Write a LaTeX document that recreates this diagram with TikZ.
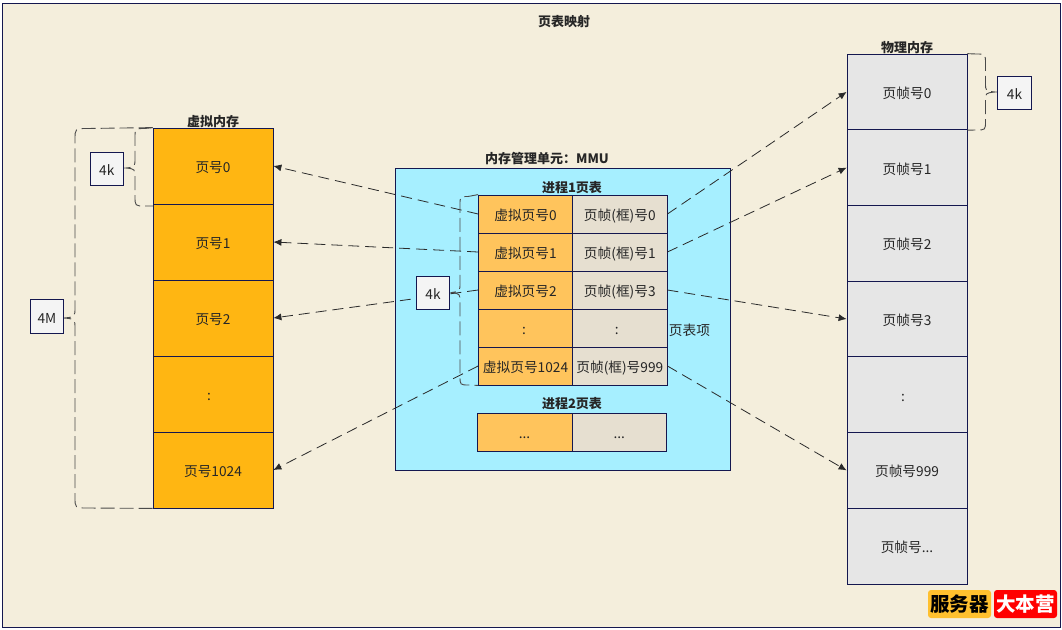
\documentclass[tikz,border=0pt]{standalone}
\usepackage{fontspec}
\setmainfont{Noto Sans CJK SC}
\usetikzlibrary{arrows.meta}

\definecolor{inkblue}{HTML}{14174F}
\definecolor{pagebg}{HTML}{F4EEDC}
\definecolor{vmfill}{HTML}{FFB612}
\definecolor{vpfill}{HTML}{FFC45C}
\definecolor{pffill}{HTML}{E6DFD0}
\definecolor{framefill}{HTML}{E6E6E6}
\definecolor{mmufill}{HTML}{A6EFFF}
\definecolor{sizefill}{HTML}{F4F4F4}
\definecolor{dashcol}{HTML}{2A2A2A}
\definecolor{bracecol}{HTML}{4A4A4A}
\definecolor{badgefill}{HTML}{FFC02E}

\begin{document}
\begin{tikzpicture}[
            x=1pt, y=-1pt,
            every node/.style={font=\fontsize{13.7}{15}\selectfont,text=black!85,inner sep=0pt,text height=13pt,text depth=0pt},
            box/.style={draw=inkblue,line width=0.8pt},
            vm cell/.style={box,fill=vmfill,minimum width=120pt,minimum height=76pt},
            frame cell/.style={box,fill=framefill,minimum width=120pt,minimum height=75.7pt},
            vp cell/.style={box,fill=vpfill,minimum width=94pt,minimum height=38pt},
            pf cell/.style={box,fill=pffill,minimum width=94.5pt,minimum height=38pt},
            size box/.style={box,fill=sizefill,minimum size=33.5pt},
            title/.style={font=\fontsize{13}{15}\selectfont\bfseries},
            badge/.style={rounded corners=3pt,minimum width=63pt,minimum height=28pt,text height=17pt,text depth=3pt,font=\fontsize{19.5}{22}\selectfont\bfseries},
            link/.style={draw=dashcol,line width=0.8pt,dash pattern=on 11pt off 6pt,-{Latex[length=8pt,width=7pt]}},
            bracket/.style={draw=bracecol,line width=0.9pt,dash pattern=on 14pt off 5pt},
        ]
            \useasboundingbox (0,0) rectangle (1062,629);
            \node[box,fill=pagebg,minimum width=1058pt,minimum height=624pt] (page) at (531,315) {};
            \node[title] (pagetitle) at (564,20.5) {页表映射};

            % virtual memory
            \node[title] (vmtitle) at (213,119.5) {虚拟内存};
            \node[vm cell] (vm0) at (213,166) {页号0};
            \node[vm cell] (vm1) at (213,242) {页号1};
            \node[vm cell] (vm2) at (213,318) {页号2};
            \node[vm cell] (vmd) at (213,394) {:\hspace*{8pt}};
            \node[vm cell] (vm1024) at (213,470) {页号1024};

            % physical memory
            \node[title] (frametitle) at (907,45.5) {物理内存};
            \node[frame cell] (fr0) at (907,91.9) {页帧号0};
            \node[frame cell] (fr1) at (907,167.6) {页帧号1};
            \node[frame cell] (fr2) at (907,243.3) {页帧号2};
            \node[frame cell] (fr3) at (907,319) {页帧号3};
            \node[frame cell] (frd) at (907,394.7) {:\hspace*{8pt}};
            \node[frame cell] (fr999) at (907,470.4) {页帧号999};
            \node[frame cell] (frn) at (907,546.1) {页帧号...};

            % mmu
            \node[title] (mmutitle) at (547,157) {内存管理单元：MMU};
            \node[box,fill=mmufill,minimum width=335pt,minimum height=302pt] (mmu) at (562.5,319) {};
            \node[title] (ptone) at (572,186) {进程1页表};
            \node[vp cell] (vp0) at (525.5,214) {虚拟页号0};
            \node[vp cell] (vp1) at (525.5,252) {虚拟页号1};
            \node[vp cell] (vp2) at (525.5,290) {虚拟页号2};
            \node[vp cell] (vpd) at (525.5,328) {:\hspace*{3pt}};
            \node[vp cell] (vp1024) at (525.5,366) {虚拟页号1024};
            \node[pf cell] (pf0) at (619.8,214) {页帧(框)号0};
            \node[pf cell] (pf1) at (619.8,252) {页帧(框)号1};
            \node[pf cell] (pf3) at (619.8,290) {页帧(框)号3};
            \node[pf cell] (pfd) at (619.8,328) {:\hspace*{6pt}};
            \node[pf cell] (pf999) at (619.8,366) {页帧(框)号999};
            \node (pte) at (689.5,328.5) {页表项};
            \node[title] (pttwo) at (572,402) {进程2页表};
            \node[vp cell,minimum width=95pt] (vpn) at (524.5,432) {...};
            \node[pf cell] (pfn) at (619.3,432) {...};

            % links
            \draw[link] (vp0.west) -- (vm0.east);
            \draw[link] (vp1.west) -- (vm1.east);
            \draw[link] (vp2.west) -- (vm2.east);
            \draw[link] (vp1024.west) -- (vm1024.east);
            \draw[link] (pf0.east) -- (fr0.west);
            \draw[link] (pf1.east) -- (fr1.west);
            \draw[link] (pf3.east) -- (fr3.west);
            \draw[link] (pf999.east) -- (fr999.west);

            % brackets
            \draw[bracket] (vm0.north west) -- (145,128.5) .. controls (135,128.5) .. (135,138) -- (135,158) .. controls (135,167) .. (126,168) .. controls (135,169) .. (135,178) -- (135,196) .. controls (135,206) .. (145,206) -- (153,206);
            \draw[bracket] (vm0.north west) -- (87,128.5) .. controls (75,128.5) .. (75,140) -- (75,307) .. controls (75,317) .. (64,318) .. controls (75,319) .. (75,329) -- (75,497) .. controls (75,508) .. (87,508) -- (vm1024.south west);
            \draw[bracket] (vp0.north west) -- (468,196.5) .. controls (460,196.5) .. (460,205) -- (460,283) .. controls (460,291) .. (452,292.5) .. controls (460,294) .. (460,302) -- (460,376) .. controls (460,385) .. (469,385) -- (vp1024.south west);
            \draw[bracket] (fr0.north east) -- (976,54) .. controls (985.5,54) .. (985.5,64) -- (985.5,83) .. controls (985.5,91) .. (995,92) .. controls (985.5,93) .. (985.5,101) -- (985.5,121) .. controls (985.5,130) .. (976,130) -- (fr0.south east);

            % size boxes
            \node[size box] (sizevm) at (106.8,169) {4k};
            \node[size box] (sizetotal) at (47,316.5) {4M};
            \node[size box] (sizevp) at (433,293) {4k};
            \node[size box] (sizefr) at (1014.5,93) {4k};

            % badges
            \node[badge,fill=badgefill,text=black] (badgea) at (959.5,604) {服务器};
            \node[badge,fill=red,text=white] (badgeb) at (1025.5,604) {大本营};
        \end{tikzpicture}
\end{document}
